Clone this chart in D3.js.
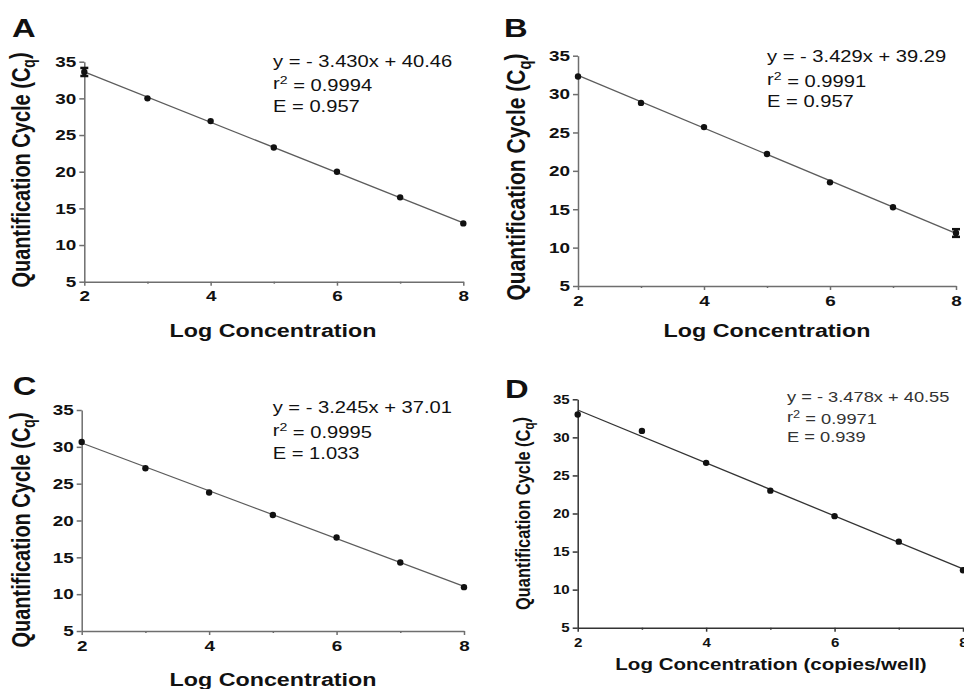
<!DOCTYPE html>
<html>
<head>
<meta charset="utf-8">
<script src="https://cdn.jsdelivr.net/npm/d3@7"></script>
<style>
  body { margin: 0; background: #fff; }
  svg { display: block; }
  text { font-family: "Liberation Sans", Arial, sans-serif; }
</style>
</head>
<body>
<svg id="chart" width="964" height="689"></svg>
<script>
// data
const logConc = [2, 3, 4, 5, 6, 7, 8];
const cqA = [33.6, 30.0, 26.9, 23.3, 20.0, 16.5, 12.95];
const cqB = [32.3, 28.85, 25.7, 22.2, 18.5, 15.25, 11.9];
const cqC = [30.65, 27.1, 23.8, 20.75, 17.7, 14.3, 10.95];
const cqD = [33.0, 30.85, 26.65, 23.0, 19.65, 16.3, 12.55];
const errA = [0.55, 0, 0, 0, 0, 0, 0];
const errB = [0, 0, 0, 0, 0, 0, 0.5];
const errNone = [0, 0, 0, 0, 0, 0, 0];

const panelLetters = ["A", "B", "C", "D"];
const slopes = [-3.430, -3.429, -3.245, -3.478];
const intercepts = [40.46, 39.29, 37.01, 40.55];
const r2Values = ["0.9994", "0.9991", "0.9995", "0.9971"];
const effValues = ["0.957", "0.957", "1.033", "0.939"];

const xTickLabels = [2, 4, 6, 8];
const xMinorTicks = [3, 5, 7];
const yTickLabels = [5, 10, 15, 20, 25, 30, 35];
const xTitles = ["Log Concentration", "Log Concentration", "Log Concentration", "Log Concentration (copies/well)"];

const series = [cqA, cqB, cqC, cqD];
const errors = [errA, errB, errNone, errNone];

// the source image is stretched sideways, so text is too
const SX = 1.26;

const layout = [
  { x0: 84.3, x1: 463.3, yTop: 61.7, yBot: 281.7, letter: [12, 37], eq: [273, 66.5, 22.5], eqSize: 16,
    yTitle: [30, 170, 20], xTitle: [273, 337, 18.5], tick: 15, pad: 5, axis: "#6e6e6e", line: "#5c5c5c" },
  { x0: 578, x1: 956, yTop: 55.7, yBot: 286, letter: [504, 36.5], eq: [767, 62.3, 22.3], eqSize: 16,
    yTitle: [525, 177, 21], xTitle: [767, 337, 18.5], tick: 15, pad: 5, axis: "#6e6e6e", line: "#5c5c5c" },
  { x0: 81.7, x1: 464, yTop: 410, yBot: 631, letter: [12.7, 395], eq: [272.7, 413.3, 23], eqSize: 16,
    yTitle: [30, 530, 20], xTitle: [273, 686, 18.5], tick: 15, pad: 5, axis: "#6e6e6e", line: "#5c5c5c" },
  { x0: 577.7, x1: 963, yTop: 399.3, yBot: 627.7, letter: [505, 398], eq: [787, 402.3, 20], eqSize: 14.5,
    yTitle: [530, 513.5, 16.4], xTitle: [771, 670, 16.3], tick: 12, pad: 7, axis: "#333", line: "#333" }
];

const svg = d3.select("#chart");

const addText = (g, x, y, size, weight, anchor, rotate) => {
  return g.append("text")
    .attr("transform", `translate(${x},${y}) scale(${SX},1)` + (rotate ? " rotate(-90)" : ""))
    .attr("text-anchor", anchor)
    .style("font-size", size + "px")
    .style("font-weight", weight)
    .style("fill", "#111");
};

layout.forEach((L, i) => {
  const g = svg.append("g");
  const data = series[i];
  const err = errors[i];

  const x = d3.scaleLinear().domain([2, 8]).range([L.x0, L.x1]);
  const y = d3.scaleLinear().domain([5, 35]).range([L.yBot, L.yTop]);

  // y axis
  const yAxis = g.append("g")
    .attr("transform", `translate(${L.x0},0)`)
    .call(d3.axisLeft(y).tickValues(yTickLabels).tickSize(5).tickSizeOuter(0).tickFormat(d3.format("d")));
  yAxis.selectAll("text")
    .attr("x", -8 / SX)
    .attr("transform", `scale(${SX},1)`)
    .style("font-size", L.tick + "px")
    .style("font-weight", "bold")
    .style("fill", "#111");

  // x axis, minor ticks first
  g.append("g")
    .attr("transform", `translate(0,${L.yBot})`)
    .call(d3.axisBottom(x).tickValues(xMinorTicks).tickSize(2).tickFormat(""))
    .select(".domain").remove();
  const xAxis = g.append("g")
    .attr("transform", `translate(0,${L.yBot})`)
    .call(d3.axisBottom(x).tickValues(xTickLabels).tickSize(4).tickSizeOuter(0)
      .tickPadding(L.pad).tickFormat(d3.format("d")));
  xAxis.selectAll("text")
    .attr("transform", `scale(${SX},1)`)
    .style("font-size", L.tick + "px")
    .style("font-weight", "bold")
    .style("fill", "#111");

  g.selectAll(".domain, .tick line")
    .attr("stroke", L.axis)
    .attr("stroke-width", 1.5);

  // fitted line from the regression equation
  const fit = d3.line().x(d => x(d)).y(d => y(slopes[i] * d + intercepts[i]));
  g.append("path")
    .datum([2, 8])
    .attr("d", fit)
    .attr("fill", "none")
    .attr("stroke", L.line)
    .attr("stroke-width", 1.3);

  // error bars
  logConc.forEach((c, k) => {
    if (!err[k]) return;
    const lo = y(data[k] - err[k]), hi = y(data[k] + err[k]);
    g.append("line")
      .attr("x1", x(c)).attr("x2", x(c)).attr("y1", lo).attr("y2", hi)
      .attr("stroke", "#111").attr("stroke-width", 3);
    [lo, hi].forEach(v => {
      g.append("line")
        .attr("x1", x(c) - 4).attr("x2", x(c) + 4).attr("y1", v).attr("y2", v)
        .attr("stroke", "#111").attr("stroke-width", 2.5);
    });
  });

  // points
  g.selectAll("circle")
    .data(logConc)
    .join("circle")
    .attr("cx", d => x(d))
    .attr("cy", (d, k) => y(data[k]))
    .attr("r", 3.2)
    .attr("fill", "#111");

  // panel letter
  addText(g, L.letter[0], L.letter[1], 26, "bold", "start").text(panelLetters[i]);

  // equation block
  const [ex, ey, dy] = L.eq;
  const eqColor = i === 3 ? "#333" : "#111";
  addText(g, ex, ey, L.eqSize, "normal", "start")
    .style("fill", eqColor)
    .text(`y = - ${Math.abs(slopes[i]).toFixed(3)}x + ${intercepts[i].toFixed(2)}`);
  const r2 = addText(g, ex, ey + dy, L.eqSize, "normal", "start").style("fill", eqColor);
  r2.append("tspan").text("r");
  r2.append("tspan").attr("dy", "-0.45em").style("font-size", "0.7em").text("2");
  r2.append("tspan").attr("dy", "0.45em").text(` = ${r2Values[i]}`);
  addText(g, ex, ey + 2 * dy, L.eqSize, "normal", "start")
    .style("fill", eqColor)
    .text(`E = ${effValues[i]}`);

  // axis titles
  addText(g, L.xTitle[0], L.xTitle[1], L.xTitle[2], "bold", "middle").text(xTitles[i]);
  const yt = addText(g, L.yTitle[0], L.yTitle[1], L.yTitle[2], "bold", "middle", true);
  yt.append("tspan").text("Quantification Cycle (C");
  yt.append("tspan").attr("dy", "0.3em").style("font-size", "0.7em").text("q");
  yt.append("tspan").attr("dy", "-0.3em").text(")");
});
</script>
</body>
</html>
